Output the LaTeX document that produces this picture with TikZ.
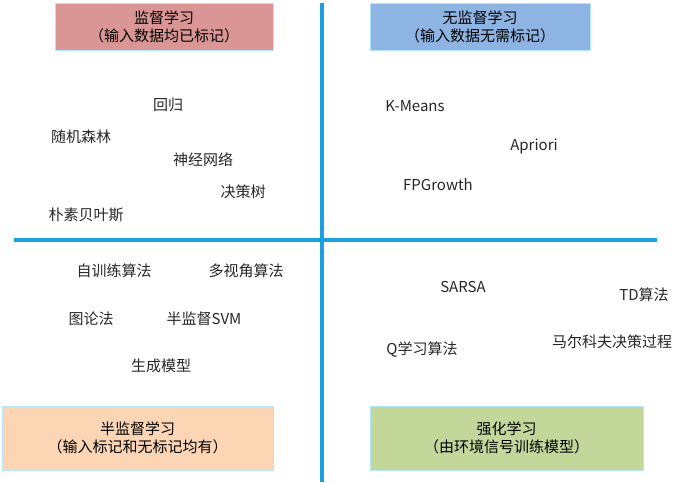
\documentclass[tikz,border=0pt]{standalone}
\usepackage{fontspec}
\setmainfont{Noto Sans CJK SC}
\begin{document}
\begin{tikzpicture}[x=1pt,y=-1pt,
  lbl/.style={font=\fontsize{15}{18}\selectfont, text=black!85},
  cat/.style={draw=cyan!30, line width=0.6pt, align=center, font=\fontsize{15}{18}\selectfont, inner sep=0pt},
  axis/.style={draw={rgb,255:red,26;green,160;blue,224}, line width=3.5pt}]
\useasboundingbox (0,0) rectangle (692,482);
\definecolor{c1}{HTML}{DA9694}\definecolor{c2}{HTML}{8DB4E2}
\definecolor{c3}{HTML}{FCD5B4}\definecolor{c4}{HTML}{C4D79B}
\coordinate (vt) at (322,3); \coordinate (vb) at (322,482);
\coordinate (hl) at (14,240); \coordinate (hr) at (657,240);
\draw[axis] (vt) -- (vb); \draw[axis] (hl) -- (hr);
\node[cat, fill=c1, minimum width=218, minimum height=47] (s) at (164,26.5) {监督学习\\（输入数据均已标记）};
\node[cat, fill=c2, minimum width=220, minimum height=47] (u) at (480,26.5) {无监督学习\\（输入数据无需标记）};
\node[cat, fill=c3, minimum width=271, minimum height=64] (ss) at (137.5,438) {半监督学习\\（输入标记和无标记均有）};
\node[cat, fill=c4, minimum width=273, minimum height=64] (r) at (506.5,438) {强化学习\\（由环境信号训练模型）};
\node[lbl] (a1) at (168,105) {回归};
\node[lbl] (a2) at (81,137) {随机森林};
\node[lbl] (a3) at (203,160) {神经网络};
\node[lbl] (a4) at (243,192) {决策树};
\node[lbl] (a5) at (86,215) {朴素贝叶斯};
\node[lbl] (b1) at (415,106) {K-Means};
\node[lbl] (b2) at (534,146) {Apriori};
\node[lbl] (b3) at (438,185) {FPGrowth};
\node[lbl] (c1n) at (114,271) {自训练算法};
\node[lbl] (c2n) at (246,271) {多视角算法};
\node[lbl] (c3n) at (91,319) {图论法};
\node[lbl] (c4n) at (204,319) {半监督SVM};
\node[lbl] (c5n) at (161,366) {生成模型};
\node[lbl] (d1) at (463,287) {SARSA};
\node[lbl] (d2) at (644,295) {TD算法};
\node[lbl] (d3) at (612,342) {马尔科夫决策过程};
\node[lbl] (d4) at (422,350) {Q学习算法};
\end{tikzpicture}
\end{document}
